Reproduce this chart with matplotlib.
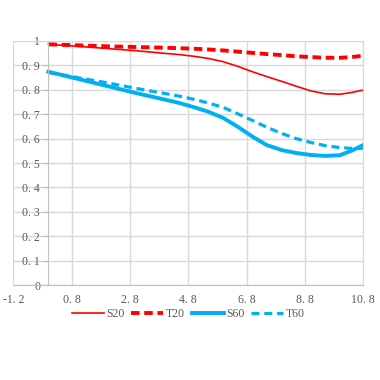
import numpy as np
import matplotlib
matplotlib.use('Agg')
from matplotlib import pyplot as plt

# ---------------- data ----------------
x = [0, 1, 2, 3, 4, 4.5, 5, 5.5, 6, 6.5, 7, 7.5, 8, 8.5, 9, 9.5, 10, 10.4, 10.8]
s20 = [0.985, 0.977, 0.968, 0.959, 0.948, 0.943, 0.936, 0.927, 0.914, 0.895, 0.873, 0.853, 0.834, 0.814, 0.795, 0.783, 0.781, 0.788, 0.798]
t20 = [0.985, 0.981, 0.977, 0.974, 0.971, 0.969, 0.967, 0.964, 0.960, 0.955, 0.950, 0.945, 0.941, 0.936, 0.933, 0.930, 0.930, 0.933, 0.938]
s60 = [0.873, 0.844, 0.815, 0.786, 0.759, 0.745, 0.728, 0.709, 0.684, 0.648, 0.608, 0.573, 0.553, 0.541, 0.533, 0.529, 0.532, 0.550, 0.573]
t60 = [0.870, 0.849, 0.828, 0.805, 0.784, 0.773, 0.760, 0.745, 0.727, 0.701, 0.674, 0.646, 0.621, 0.600, 0.584, 0.571, 0.563, 0.560, 0.560]

xticks = [-1.2, 0.8, 2.8, 4.8, 6.8, 8.8, 10.8]
xtick_labels = ['-1. 2', '0. 8', '2. 8', '4. 8', '6. 8', '8. 8', '10. 8']
yticks = [0, 0.1, 0.2, 0.3, 0.4, 0.5, 0.6, 0.7, 0.8, 0.9, 1.0]
ytick_labels = ['0', '0. 1', '0. 2', '0. 3', '0. 4', '0. 5', '0. 6', '0. 7', '0. 8', '0. 9', '1']

red = '#FF0000'
blue = '#00B0F0'
grid_c = '#D9D9D9'
text_c = '#595959'

plt.rcParams['font.family'] = ['Liberation Serif', 'DejaVu Serif']

fig = plt.figure(figsize=(3.8, 3.8), dpi=100)
ax = fig.add_axes([0.0355, 0.249, 0.92, 0.644])

ax.plot(x, s20, color=red, linewidth=1.2, label='S20')
ax.plot(x, t20, color=red, linewidth=2.8, linestyle=(0, (2.2, 1.2)), label='T20')
ax.plot(x, s60, color=blue, linewidth=2.8, label='S60')
ax.plot(x, t60, color=blue, linewidth=2.3, linestyle=(0, (2.5, 1.5)), label='T60')

ax.set_xlim(-1.2, 10.8)
ax.set_ylim(0, 1)
ax.set_xticks(xticks)
ax.set_xticklabels(xtick_labels)
ax.set_yticks(yticks)
ax.set_yticklabels(ytick_labels)

ax.grid(True, color=grid_c, linewidth=1)
ax.set_axisbelow(True)

# y axis crosses at x = 0 like the spreadsheet chart
ax.spines['left'].set_position(('data', 0))
ax.spines['left'].set_color('#BFBFBF')
ax.spines['bottom'].set_color('#BFBFBF')
ax.spines['top'].set_color(grid_c)
ax.spines['right'].set_color(grid_c)

ax.tick_params(axis='y', length=4, color='#BFBFBF', labelsize=8.5, labelcolor=text_c, pad=2)
ax.tick_params(axis='x', length=0, labelsize=8.5, labelcolor=text_c, pad=6)

fig.legend(loc='center', bbox_to_anchor=(0.495, 0.174), ncol=4, frameon=False,
           fontsize=8.5, handlelength=2.7, handletextpad=0.2, columnspacing=0.6,
           labelcolor=text_c)

fig.savefig('out.png', dpi=100)
